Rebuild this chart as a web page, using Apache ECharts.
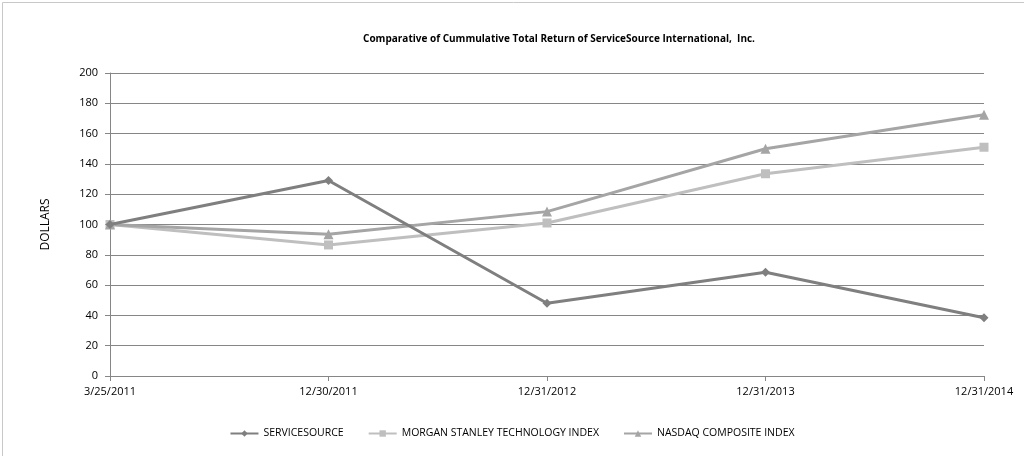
<!DOCTYPE html>
<html><head><meta charset="utf-8">
<script src="https://cdn.jsdelivr.net/npm/echarts@6/dist/echarts.min.js"></script>
<style>html,body{margin:0;padding:0;background:#fff}#c{width:1024px;height:456px}</style>
</head><body><div id="c"></div>
<script>
const categories = ['3/25/2011','12/30/2011','12/31/2012','12/31/2013','12/31/2014'];
const serviceSource = [100, 129, 48, 68.5, 38.5];
const morganStanley = [100, 86.5, 101, 133.5, 151];
const nasdaq = [100, 93.5, 108.5, 150, 172.5];
const yTicks = [0, 200, 20];

const chart = echarts.init(document.getElementById('c'));
const font = 'Open Sans, Liberation Sans, sans-serif';
chart.setOption({
  animation: false,
  backgroundColor: '#fff',
  title: {
    text: 'Comparative of Cummulative Total Return of ServiceSource International,  Inc.',
    left: 554, top: 29, textAlign: 'center',
    textStyle: {fontSize: 10, fontWeight: 'bold', color: '#000', fontFamily: font}
  },
  graphic: [{type: 'rect', left: 0, top: 0, shape: {width: 1022, height: 454},
    style: {fill: 'none', stroke: '#c8c8c8', lineWidth: 1}}],
  legend: {
    bottom: 12, left: 'center', itemWidth: 28, itemHeight: 8, itemGap: 24,
    textStyle: {fontSize: 10.5, color: '#000', fontFamily: font},
    data: ['SERVICESOURCE', 'MORGAN STANLEY TECHNOLOGY INDEX', 'NASDAQ COMPOSITE INDEX']
  },
  grid: {left: 110, right: 40, top: 73, bottom: 80},
  xAxis: {
    type: 'category', data: categories, boundaryGap: false,
    axisLine: {lineStyle: {color: '#868686'}},
    axisTick: {show: true, length: 5, lineStyle: {color: '#868686'}},
    axisLabel: {color: '#000', fontSize: 11, margin: 10, fontFamily: font,
      showMinLabel: true, showMaxLabel: true}
  },
  yAxis: {
    type: 'value', min: yTicks[0], max: yTicks[1], interval: yTicks[2],
    name: 'DOLLARS', nameLocation: 'middle', nameGap: 58, nameRotate: 90,
    nameTextStyle: {fontSize: 12, color: '#000', fontFamily: font},
    axisLine: {show: true, lineStyle: {color: '#868686'}},
    axisTick: {show: true, length: 5, lineStyle: {color: '#868686'}},
    axisLabel: {color: '#000', fontSize: 11, margin: 12, fontFamily: font},
    splitLine: {lineStyle: {color: '#868686'}}
  },
  series: [
    {name: 'SERVICESOURCE', type: 'line', data: serviceSource, symbol: 'diamond', symbolSize: 9,
     lineStyle: {color: '#7f7f7f', width: 3}, itemStyle: {color: '#7f7f7f'}, z: 3},
    {name: 'MORGAN STANLEY TECHNOLOGY INDEX', type: 'line', data: morganStanley, symbol: 'rect', symbolSize: 9,
     lineStyle: {color: '#bfbfbf', width: 3}, itemStyle: {color: '#bfbfbf'}, z: 2},
    {name: 'NASDAQ COMPOSITE INDEX', type: 'line', data: nasdaq, symbol: 'triangle', symbolSize: 10,
     lineStyle: {color: '#a5a5a5', width: 3}, itemStyle: {color: '#a5a5a5'}, z: 2}
  ]
});
</script></body></html>
